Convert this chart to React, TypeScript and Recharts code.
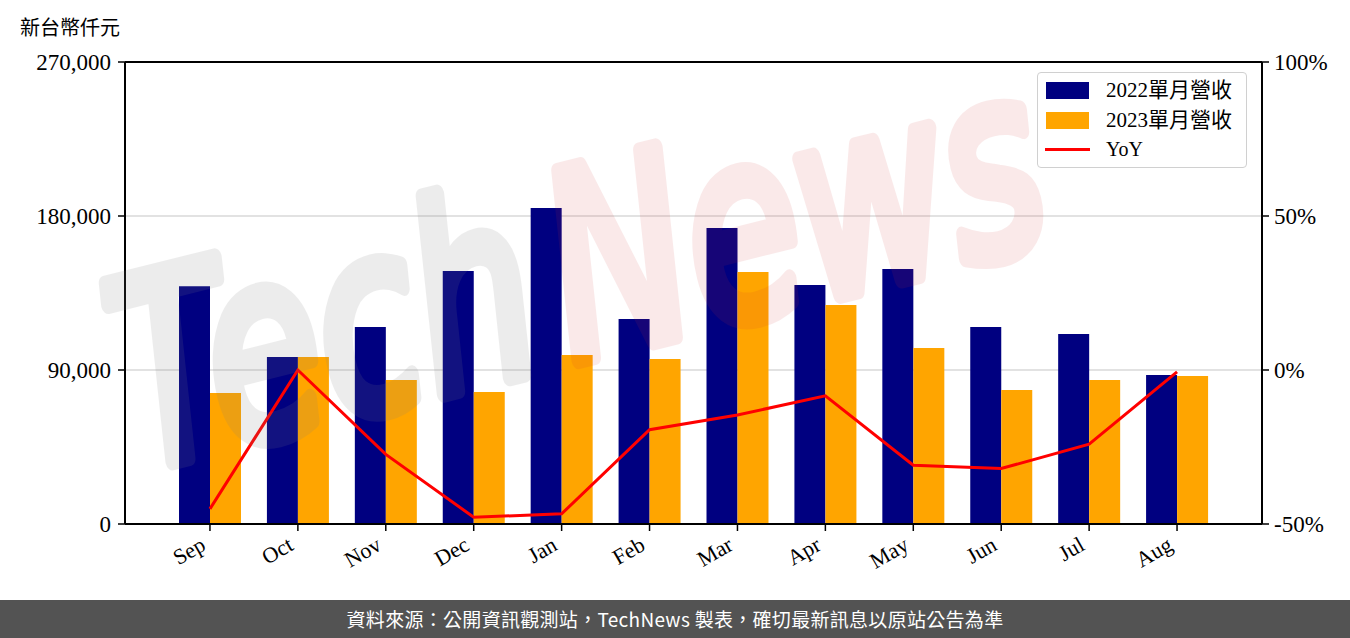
import React from "react";
import {
  ComposedChart,
  Bar,
  Line,
  XAxis,
  YAxis,
  CartesianGrid,
  ReferenceLine,
} from "recharts";

const months = ["Sep", "Oct", "Nov", "Dec", "Jan", "Feb", "Mar", "Apr", "May", "Jun", "Jul", "Aug"];
const revenue2022 = [139000, 97600, 115100, 147900, 184700, 119800, 173000, 139700, 149000, 115100, 111000, 87100];
const revenue2023 = [76600, 97600, 84200, 77100, 98800, 96400, 147300, 128000, 102900, 78300, 84200, 86500];
const yoy = [-45.1, 0, -27.4, -47.8, -46.7, -19.4, -14.6, -8.4, -30.9, -32.0, -24.1, -0.6];
const leftTicks = [0, 90000, 180000, 270000];
const rightTicks = [-50, 0, 50, 100];

const data = months.map((m, i) => ({
  month: m,
  y2022: revenue2022[i],
  y2023: revenue2023[i],
  yoy: yoy[i],
}));

const SERIF = "'Liberation Serif', 'Noto Sans CJK TC', serif";
const CJK = "'Noto Sans CJK TC', sans-serif";

const MonthTick = ({ x, y, payload }: any) => (
  <g transform={`translate(${x - 3},${y + 16}) rotate(-30)`}>
    <text x={0} y={0} textAnchor="end" fontSize={22} fontFamily={SERIF} fill="#000">
      {payload.value}
    </text>
  </g>
);

const LegendBox = () => {
  const items = [
    { label: "2022單月營收", color: "#000080", type: "rect" },
    { label: "2023單月營收", color: "#FFA500", type: "rect" },
    { label: "YoY", color: "#FF0000", type: "line" },
  ];
  return (
    <div
      style={{
        position: "absolute",
        left: 1037,
        top: 72,
        width: 208,
        height: 94,
        border: "1px solid #d0d0d0",
        borderRadius: 4,
        background: "rgba(255,255,255,0.8)",
      }}
    >
      {items.map((it, i) => (
        <div
          key={it.label}
          style={{ position: "absolute", left: 0, top: 4 + i * 29.5, height: 26, width: 208 }}
        >
          {it.type === "rect" ? (
            <div style={{ position: "absolute", left: 8, top: 5, width: 43, height: 17, background: it.color }} />
          ) : (
            <div style={{ position: "absolute", left: 7, top: 12, width: 45, height: 3, background: it.color }} />
          )}
          <span
            style={{
              position: "absolute",
              left: 68,
              top: 0,
              lineHeight: "26px",
              fontSize: it.type === "rect" ? 21 : 20,
              fontFamily: SERIF,
              whiteSpace: "nowrap",
              color: "#000",
            }}
          >
            {it.label}
          </span>
        </div>
      ))}
    </div>
  );
};

// faint site watermark laid over the plot, brush-like via a thick round stroke
const Watermark = () => (
  <svg
    width={1350}
    height={600}
    style={{ position: "absolute", left: 0, top: 0, pointerEvents: "none" }}
  >
    <g transform="translate(140,470) rotate(-14) scale(1,1.4)">
      <g opacity={0.14}>
        <text
          x={0}
          y={0}
          fontSize={185}
          fontFamily="'DejaVu Sans', sans-serif"
          fontStyle="italic"
          fill="#808080"
          stroke="#808080"
          strokeWidth={12}
          strokeLinejoin="round"
        >
          Tech
        </text>
      </g>
      <g opacity={0.1}>
        <text
          x={446}
          y={0}
          fontSize={185}
          fontFamily="'DejaVu Sans', sans-serif"
          fontStyle="italic"
          fill="#d23232"
          stroke="#d23232"
          strokeWidth={12}
          strokeLinejoin="round"
        >
          News
        </text>
      </g>
    </g>
  </svg>
);

export default function App() {
  return (
    <div style={{ position: "absolute", left: 0, top: 0, width: 1350, height: 638, background: "#fff" }}>
      <div
        style={{
          position: "absolute",
          left: 20,
          top: 15,
          fontSize: 20,
          lineHeight: "24px",
          fontFamily: CJK,
          color: "#000",
        }}
      >
        新台幣仟元
      </div>
      <div style={{ position: "absolute", left: 0, top: 0 }}>
        <ComposedChart
          width={1350}
          height={600}
          data={data}
          margin={{ top: 62, right: 0, bottom: 0, left: 0 }}
          barGap={0}
        >
          <CartesianGrid yAxisId="left" vertical={false} stroke="#d9d9d9" strokeWidth={1.5} />
          <XAxis
            dataKey="month"
            padding={{ left: 41, right: 41 }}
            height={76}
            tickSize={7}
            tick={<MonthTick />}
            interval={0}
            axisLine={{ stroke: "#000", strokeWidth: 2 }}
            tickLine={{ stroke: "#000", strokeWidth: 1.5 }}
          />
          <YAxis
            yAxisId="left"
            orientation="left"
            width={125}
            domain={[0, 270000]}
            ticks={leftTicks}
            tickFormatter={(v: number) => v.toLocaleString("en-US")}
            tickSize={7}
            tickMargin={7}
            tick={{ fontSize: 23, fontFamily: SERIF, fill: "#000" }}
            axisLine={{ stroke: "#000", strokeWidth: 2 }}
            tickLine={{ stroke: "#000", strokeWidth: 1.5 }}
            allowDataOverflow
          />
          <YAxis
            yAxisId="right"
            orientation="right"
            width={88}
            domain={[-50, 100]}
            ticks={rightTicks}
            tickFormatter={(v: number) => `${v}%`}
            tickSize={7}
            tickMargin={5}
            tick={{ fontSize: 23, fontFamily: SERIF, fill: "#000", textAnchor: "start" }}
            axisLine={{ stroke: "#000", strokeWidth: 2 }}
            tickLine={{ stroke: "#000", strokeWidth: 1.5 }}
            allowDataOverflow
          />
          <ReferenceLine yAxisId="left" y={270000} stroke="#000" strokeWidth={2} />
          <Bar yAxisId="left" dataKey="y2022" name="2022單月營收" fill="#000080" barSize={31} isAnimationActive={false} />
          <Bar yAxisId="left" dataKey="y2023" name="2023單月營收" fill="#FFA500" barSize={31} isAnimationActive={false} />
          <Line
            yAxisId="right"
            type="linear"
            dataKey="yoy"
            name="YoY"
            stroke="#FF0000"
            strokeWidth={3}
            dot={false}
            isAnimationActive={false}
          />
        </ComposedChart>
      </div>
      <Watermark />
      <LegendBox />
      <div
        style={{
          position: "absolute",
          left: 0,
          top: 600,
          width: 1350,
          height: 38,
          background: "#535353",
          color: "#fff",
          fontFamily: CJK,
          fontSize: 19,
          letterSpacing: 0.3,
          lineHeight: "38px",
          textAlign: "center",
        }}
      >
        資料來源：公開資訊觀測站，TechNews 製表，確切最新訊息以原站公告為準
      </div>
    </div>
  );
}
